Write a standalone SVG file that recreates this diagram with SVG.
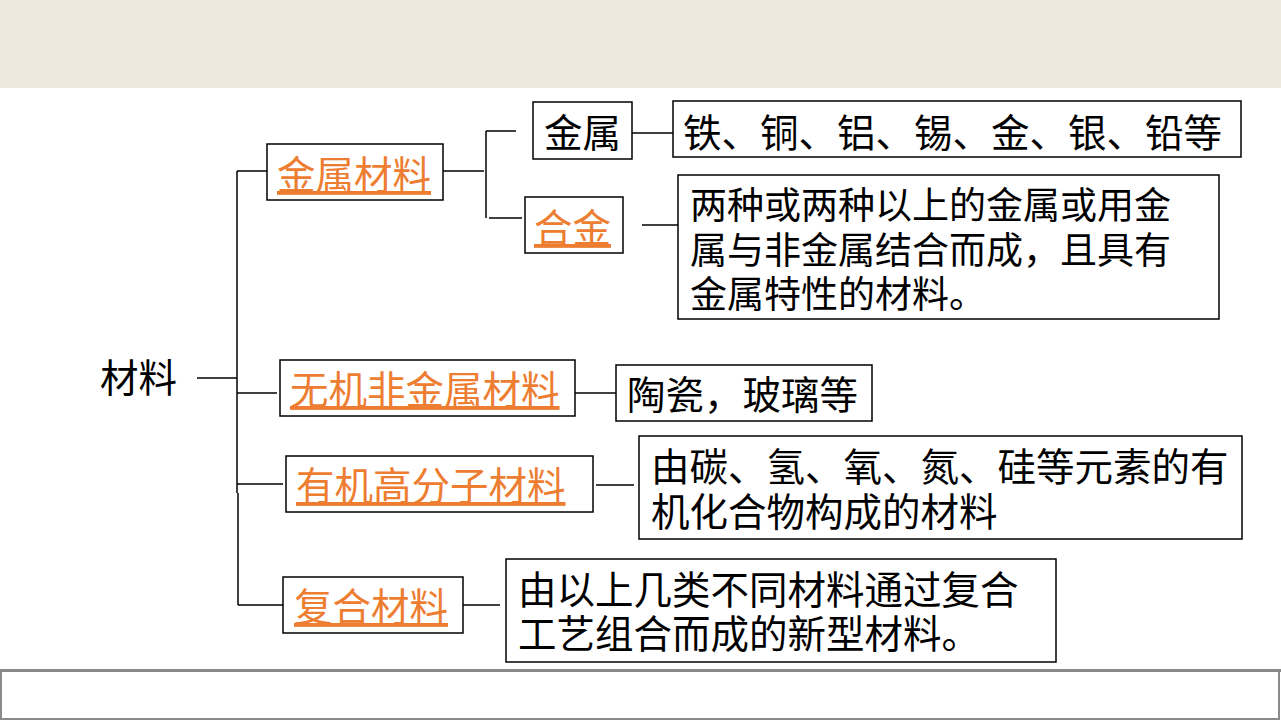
<svg xmlns="http://www.w3.org/2000/svg" width="1281" height="720" viewBox="0 0 1281 720">
<style>
.box{fill:#fff;stroke:#000;stroke-width:1.5}
.t{font-family:"Liberation Serif","Noto Sans CJK SC",serif;font-size:38.5px;fill:#000}
.s{font-size:37px}
.o{fill:#ED7D31;text-decoration:underline}
.c line{stroke:#000;stroke-width:1.5}
</style>
<rect x="0" y="0" width="1281" height="88" fill="#EDE9DC"/>
<rect x="1" y="671" width="1278" height="48" fill="#fff" stroke="#8a8a8a" stroke-width="2"/>
<line x1="0" y1="670.5" x2="1281" y2="670.5" stroke="#8a8a8a" stroke-width="3"/>
<g class="c" id="connectors">
<line x1="197" y1="378" x2="237" y2="378"/>
<line x1="237" y1="171" x2="237" y2="493"/>
<line x1="238" y1="493" x2="238" y2="605"/>
<line x1="237" y1="171" x2="267" y2="171"/>
<line x1="237" y1="393" x2="277" y2="393"/>
<line x1="237" y1="484" x2="283" y2="484"/>
<line x1="238" y1="605" x2="283" y2="605"/>
<line x1="443" y1="171" x2="484" y2="171"/>
<line x1="486" y1="131" x2="486" y2="218"/>
<line x1="486" y1="131" x2="516" y2="131"/>
<line x1="489" y1="218" x2="522" y2="218"/>
<line x1="632" y1="133" x2="673" y2="133"/>
<line x1="642" y1="225" x2="678" y2="225"/>
<line x1="575" y1="393" x2="616" y2="393"/>
<line x1="596" y1="485" x2="634" y2="485"/>
<line x1="463" y1="605" x2="500" y2="605"/>
</g>
<g id="root"><text class="t" x="100" y="392">材料</text></g>
<g id="metal-materials"><rect class="box" x="267" y="144" width="176" height="56"/><text class="t o" x="277" y="189">金属材料</text></g>
<g id="metal"><rect class="box" x="533" y="102" width="99" height="57"/><text class="t" x="544" y="147">金属</text></g>
<g id="metal-examples"><rect class="box" x="673" y="101" width="568" height="56"/><text class="t" x="683" y="147">铁、铜、铝、锡、金、银、铅等</text></g>
<g id="alloy"><rect class="box" x="525" y="197" width="98" height="56"/><text class="t o" x="534" y="242">合金</text></g>
<g id="alloy-def"><rect class="box" x="678" y="175" width="541" height="144"/>
<text class="t s" x="690" y="219">两种或两种以上的金属或用金</text>
<text class="t s" x="690" y="264">属与非金属结合而成，且具有</text>
<text class="t s" x="690" y="308">金属特性的材料。</text></g>
<g id="inorganic"><rect class="box" x="280" y="360" width="295" height="56"/><text class="t o" x="290" y="404">无机非金属材料</text></g>
<g id="inorganic-examples"><rect class="box" x="616" y="365" width="256" height="56"/><text class="t" x="627" y="409">陶瓷，玻璃等</text></g>
<g id="polymer"><rect class="box" x="286" y="456" width="307" height="56"/><text class="t o" x="296" y="500">有机高分子材料</text></g>
<g id="polymer-def"><rect class="box" x="639" y="436" width="603" height="103"/>
<text class="t" x="651" y="481">由碳、氢、氧、氮、硅等元素的有</text>
<text class="t" x="651" y="526">机化合物构成的材料</text></g>
<g id="composite"><rect class="box" x="283" y="577" width="180" height="56"/><text class="t o" x="294" y="621">复合材料</text></g>
<g id="composite-def"><rect class="box" x="506" y="559" width="550" height="103"/>
<text class="t" x="518" y="604">由以上几类不同材料通过复合</text>
<text class="t" x="518" y="648">工艺组合而成的新型材料。</text></g>
</svg>
